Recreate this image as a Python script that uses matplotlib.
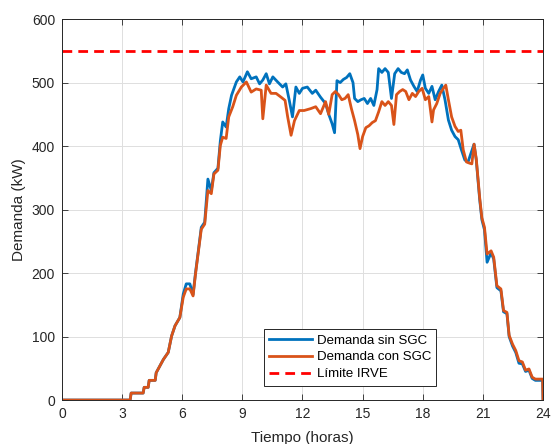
import matplotlib
matplotlib.use('Agg')
from matplotlib import pyplot as plt

plt.rcParams['font.family'] = ['Liberation Sans', 'DejaVu Sans']

# Demanda con SGC (naranja)
t_con = [0, 3.40, 3.45, 4.05, 4.10, 4.30, 4.35, 4.65, 4.70, 5.06, 5.30, 5.47, 5.64, 5.88,
         6.05, 6.20, 6.38, 6.54, 6.66, 6.79, 6.95, 7.12, 7.28, 7.45, 7.58, 7.78, 7.90, 8.02,
         8.19, 8.32, 8.52, 8.70, 8.95, 9.20, 9.44, 9.69, 9.94, 10.02, 10.19, 10.43, 10.68,
         10.93, 11.13, 11.26, 11.43, 11.60, 11.84, 12.08, 12.41, 12.66, 12.90, 13.15, 13.31,
         13.48, 13.64, 13.80, 13.96, 14.12, 14.28, 14.44, 14.60, 14.76, 14.87, 15.00, 15.16,
         15.32, 15.48, 15.64, 15.80, 15.96, 16.12, 16.28, 16.44, 16.56, 16.69, 16.85, 17.00,
         17.15, 17.31, 17.48, 17.64, 17.80, 17.97, 18.13, 18.30, 18.46, 18.54, 18.70, 18.87,
         19.03, 19.15, 19.28, 19.44, 19.61, 19.77, 19.90, 20.02, 20.18, 20.34, 20.45, 20.56,
         20.67, 20.84, 20.95, 21.08, 21.21, 21.41, 21.54, 21.70, 21.90, 22.03, 22.20, 22.31,
         22.48, 22.64, 22.80, 22.97, 23.13, 23.30, 23.46, 23.62, 23.87, 23.98, 24.0]
d_con = [0, 0, 11, 11, 20, 20, 31, 31, 43, 64, 75, 101, 117, 130,
         162, 175, 175, 164, 198, 230, 269, 277, 330, 325, 356, 362, 401, 414,
         412, 446, 462, 480, 493, 501, 485, 490, 488, 443, 496, 483, 483,
         477, 472, 446, 417, 440, 456, 456, 459, 462, 451, 470, 450,
         481, 486, 481, 473, 475, 481, 459, 440, 418, 396, 415, 429,
         432, 437, 440, 454, 470, 464, 470, 464, 434, 481, 486, 489,
         486, 473, 483, 478, 486, 491, 473, 478, 438, 457, 467, 483,
         491, 496, 473, 446, 431, 423, 425, 394, 375, 373, 372, 403,
         380, 319, 287, 272, 230, 235, 225, 180, 175, 141, 138, 102,
         88, 78, 62, 60, 47, 49, 36, 33, 33, 33, 0]

# Demanda sin SGC (azul)
t_sin = [0, 3.40, 3.45, 4.05, 4.10, 4.30, 4.35, 4.65, 4.70, 5.06, 5.30, 5.47, 5.64, 5.88,
         6.05, 6.20, 6.38, 6.54, 6.66, 6.79, 6.95, 7.12, 7.28, 7.45, 7.58, 7.78, 7.90, 8.02,
         8.19, 8.32, 8.46, 8.70, 8.87, 9.03, 9.25, 9.44, 9.69, 9.86, 10.02, 10.19, 10.35,
         10.52, 10.76, 11.01, 11.17, 11.34, 11.50, 11.67, 11.84, 12.00, 12.24, 12.49, 12.66,
         12.90, 13.15, 13.31, 13.48, 13.60, 13.72, 13.88, 14.04, 14.20, 14.36, 14.52, 14.60,
         14.76, 14.92, 15.08, 15.24, 15.40, 15.56, 15.72, 15.80, 15.96, 16.12, 16.28, 16.44,
         16.60, 16.77, 16.93, 17.09, 17.23, 17.39, 17.56, 17.72, 17.89, 18.00, 18.13, 18.30,
         18.46, 18.62, 18.79, 18.95, 19.11, 19.28, 19.44, 19.61, 19.77, 19.93, 20.10, 20.26,
         20.43, 20.56, 20.67, 20.84, 20.95, 21.08, 21.21, 21.41, 21.54, 21.70, 21.90, 22.03,
         22.20, 22.31, 22.48, 22.64, 22.80, 22.97, 23.13, 23.30, 23.46, 23.62, 23.87, 23.98, 24.0]
d_sin = [0, 0, 11, 11, 20, 20, 31, 31, 43, 64, 75, 101, 117, 130,
         167, 183, 183, 166, 200, 232, 272, 280, 348, 330, 358, 365, 408, 438,
         430, 459, 480, 501, 509, 501, 517, 506, 509, 498, 504, 514, 498,
         509, 501, 493, 498, 472, 446, 493, 483, 491, 493, 483, 488,
         477, 467, 450, 435, 421, 503, 500, 505, 508, 514, 500, 475,
         470, 473, 475, 467, 475, 464, 489, 522, 516, 522, 516, 475,
         514, 522, 516, 514, 520, 504, 494, 486, 504, 512, 491, 483,
         494, 473, 486, 496, 473, 441, 425, 415, 410, 394, 378, 375,
         391, 403, 378, 316, 284, 268, 217, 232, 222, 177, 172, 139,
         136, 100, 85, 75, 58, 57, 45, 47, 34, 31, 31, 31, 0]

LIMITE_IRVE = 550
X_TICKS = [0, 3, 6, 9, 12, 15, 18, 21, 24]
Y_TICKS = [0, 100, 200, 300, 400, 500, 600]

AX_COLOR = '#262626'

fig = plt.figure(figsize = (5.52, 4.44), dpi = 100)
ax = fig.add_axes([0.1123, 0.099, 0.8714, 0.858])

ax.plot(t_sin, d_sin, color = '#0072BD', linewidth = 2, label = 'Demanda sin SGC')
ax.plot(t_con, d_con, color = '#D95319', linewidth = 2, label = 'Demanda con SGC')
ax.axhline(LIMITE_IRVE, color = 'red', linestyle = (0, (3.5, 2.2)), linewidth = 2,
           label = 'Límite IRVE')

ax.set_xlim(0, 24)
ax.set_ylim(0, 600)
ax.set_xticks(X_TICKS)
ax.set_yticks(Y_TICKS)
ax.tick_params(direction = 'in', top = True, right = True, length = 4,
               width = 0.6, labelsize = 10, colors = AX_COLOR, pad = 5)
for s in ax.spines.values():
  s.set_color(AX_COLOR)
  s.set_linewidth(0.7)

ax.grid(True, color = '#DFDFDF', linewidth = 0.7)
ax.set_axisbelow(True)

ax.set_xlabel('Tiempo (horas)', fontsize = 11, color = AX_COLOR, labelpad = 7)
ax.set_ylabel('Demanda (kW)', fontsize = 11, color = AX_COLOR, labelpad = 4)

leg = ax.legend(loc = 'lower left', bbox_to_anchor = (0.42, 0.038), fontsize = 9.5,
                handlelength = 3.2, handletextpad = 0.4, borderpad = 0.4,
                labelspacing = 0.35, fancybox = False, framealpha = 1,
                borderaxespad = 0)
leg.get_frame().set_edgecolor(AX_COLOR)
leg.get_frame().set_linewidth(0.7)

fig.savefig('out.png', dpi = 100)
